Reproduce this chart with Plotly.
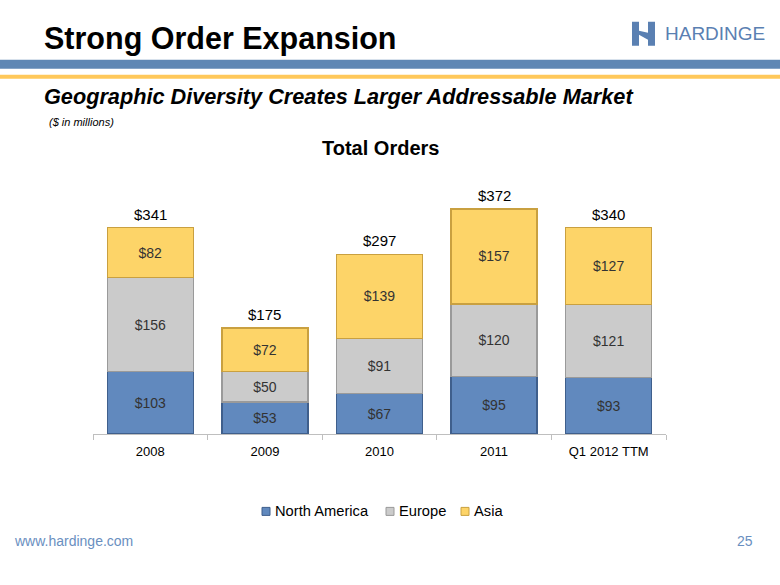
import plotly.graph_objects as go

categories = ["2008", "2009", "2010", "2011", "Q1 2012 TTM"]
north_america = [103, 53, 67, 95, 93]
europe = [156, 50, 91, 120, 121]
asia = [82, 72, 139, 157, 127]
totals = [341, 175, 297, 372, 340]
series_names = ["North America", "Europe", "Asia"]

W, H = 780, 585
L, R = 93, 666
B, T = 433.7, 192.0

def px(x):
    return (x - L) / (R - L)

def py(y):
    return (B - y) / (B - T)

colors = ["#6189BE", "#CBCBCB", "#FDD468"]
edges = ["#3F5F8C", "#9A9A9A", "#C9A040"]

fig = go.Figure()
for name, vals, col, edge in zip(series_names, [north_america, europe, asia], colors, edges):
    fig.add_trace(go.Bar(
        name=name, x=categories, y=vals,
        marker=dict(color=col, line=dict(color=edge, width=1.5)),
        text=["$%d" % v for v in vals], textposition="inside",
        insidetextanchor="middle", textangle=0,
        textfont=dict(family="Liberation Sans, Arial", size=14, color="#333333"),
        width=0.75, showlegend=False,
    ))

annotations = []
for i, t in enumerate(totals):
    annotations.append(dict(x=i, y=t, xref="x", yref="y", text="$%d" % t,
                            showarrow=False, yanchor="bottom", yshift=3,
                            font=dict(family="Liberation Sans, Arial", size=15, color="#000000")))

def txt(x, y, s, size, color="#000000", anchor="left", bold=False, italic=False):
    if bold:
        s = "<b>%s</b>" % s
    if italic:
        s = "<i>%s</i>" % s
    annotations.append(dict(x=px(x), y=py(y), xref="paper", yref="paper", text=s,
                            showarrow=False, xanchor=anchor, yanchor="middle",
                            font=dict(family="Liberation Sans, Arial", size=size, color=color)))

txt(42, 39, "Strong Order Expansion", 30.5, bold=True)
txt(42, 97, "Geographic Diversity Creates Larger Addressable Market", 21.7, bold=True, italic=True)
txt(47, 122, "($ in millions)", 11, italic=True)
txt(380, 148, "Total Orders", 20, anchor="center", bold=True)
txt(12, 541, "www.hardinge.com", 14, color="#6A8FBF")
txt(755, 541, "25", 14, color="#6A8FBF", anchor="right")
txt(663, 34, "HARDINGE", 19, color="#5A80B2")

shapes = [
    dict(type="rect", xref="paper", yref="paper", x0=px(0), x1=px(780), y0=py(69), y1=py(60),
         fillcolor="#5F87B4", line=dict(width=0), layer="below"),
    dict(type="rect", xref="paper", yref="paper", x0=px(0), x1=px(780), y0=py(79), y1=py(75),
         fillcolor="#FFC85A", line=dict(width=0), layer="below"),
]
# logo icon
icon = [(632, 22), (639, 22), (639, 31), (648, 33), (648, 22), (655, 22), (655, 46),
        (648, 46), (648, 40), (639, 35), (639, 46), (632, 46)]
path = "M " + " L ".join("%f,%f" % (px(x), py(y)) for x, y in icon) + " Z"
shapes.append(dict(type="path", xref="paper", yref="paper", path=path,
                   fillcolor="#5A80B2", line=dict(width=0)))

# legend (manual, compact like the original)
legend_sym_x = [262, 386, 461]
legend_y = 511
for name, col, edge, sx in zip(series_names, colors, edges, legend_sym_x):
    shapes.append(dict(type="rect", xref="paper", yref="paper",
                       x0=px(sx), x1=px(sx + 8), y0=py(legend_y + 4), y1=py(legend_y - 4),
                       fillcolor=col, line=dict(color=edge, width=1)))
    txt(sx + 11, legend_y, name, 14.7)

fig.update_layout(
    width=W, height=H,
    margin=dict(l=L, r=W - R, t=T, b=H - B),
    barmode="stack", bargap=0.25,
    paper_bgcolor="white", plot_bgcolor="white",
    showlegend=False,
    xaxis=dict(type="category", range=[-0.5, 4.5], showline=True, linecolor="#BFBFBF",
               linewidth=1, ticks="outside",
               tickson="boundaries", ticklen=5, tickcolor="#BFBFBF",
               ticklabelstandoff=5,
               tickfont=dict(family="Liberation Sans, Arial", size=13, color="#000000"),
               showgrid=False, tickangle=0),
    yaxis=dict(range=[0, 400], visible=False, showgrid=False),
    annotations=annotations, shapes=shapes,
)
fig.write_html("out.html")
